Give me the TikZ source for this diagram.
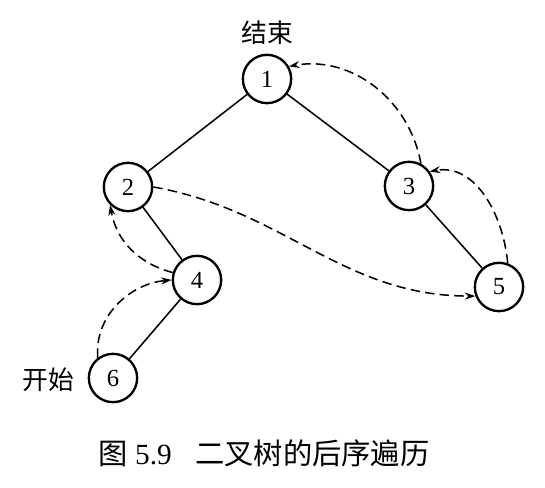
\documentclass[tikz,border=0pt]{standalone}
\usepackage{fontspec}
\setmainfont{Liberation Serif}
\newfontfamily\cjk{Noto Sans CJK SC}
\usetikzlibrary{arrows.meta}

\begin{document}
\begin{tikzpicture}[x=0.03cm,y=0.03cm,
                vertex/.style={circle,draw,line width=2pt,minimum size=1.45cm,inner sep=0pt,font=\fontsize{21}{21}\selectfont},
                edge/.style={line width=1.3pt},
                visit/.style={line width=1.3pt,dash pattern=on 8pt off 4.5pt,-{Stealth[length=9pt,width=6pt]}}]
                \useasboundingbox (0,0) rectangle (545,487);

                \node[vertex] (n1) at (267,408) {1};
                \node[vertex] (n2) at (128,300) {2};
                \node[vertex] (n3) at (409,301) {3};
                \node[vertex] (n4) at (197,207) {4};
                \node[vertex] (n5) at (499,200) {5};
                \node[vertex] (n6) at (113,109) {6};

                \draw[edge] (n1) -- (n2);
                \draw[edge] (n1) -- (n3);
                \draw[edge] (n2) -- (n4);
                \draw[edge] (n3) -- (n5);
                \draw[edge] (n4) -- (n6);

                \draw[visit] (n6.127) to[out=95,in=185] (n4.180);
                \draw[visit] (n4.163) to[out=165,in=-80] (n2.225);
                \draw[visit] (n2.0) to[out=-10,in=180] (n5.201);
                \draw[visit] (n5.70) to[out=95,in=10] (n3.35);
                \draw[visit] (n3.62) to[out=100,in=10] (n1.30);

                \node[font=\cjk\fontsize{22}{22}\selectfont] (end) at (267,454) {结束};
                \node[font=\cjk\fontsize{22}{22}\selectfont] (start) at (48,107) {开始};
                \node[font=\fontsize{25}{25}\selectfont] (caption) at (264,34) {{\cjk 图} 5.9\hspace{0.8em}{\cjk 二叉树的后序遍历}};
            \end{tikzpicture}
\end{document}
